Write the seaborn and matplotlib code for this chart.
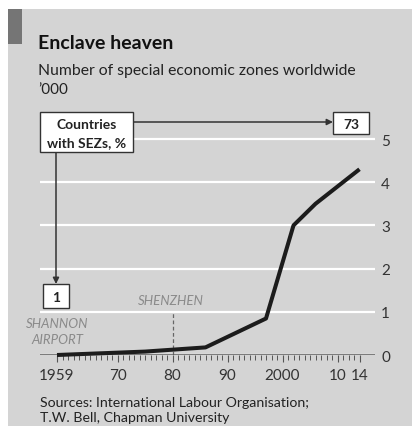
import matplotlib
matplotlib.use("Agg")
import matplotlib.pyplot as plt
import seaborn as sns
import pandas as pd
from matplotlib.patches import Rectangle, FancyArrowPatch
from matplotlib.ticker import FixedLocator, FixedFormatter

# ---- data ----
years = [1959, 1975, 1986, 1997, 2002, 2006, 2014]
zones_thousands = [0.0, 0.079, 0.176, 0.845, 3.0, 3.5, 4.3]
label_years = [1959, 1970, 1980, 1990, 2000, 2010, 2014]
label_texts = ["1959", "70", "80", "90", "2000", "10", "14"]
y_ticks = [0, 1, 2, 3, 4, 5]
countries_start = "1"
countries_end = "73"

df = pd.DataFrame({"year": years, "zones": zones_thousands})

W, H = 412, 427
BG = "#d4d4d4"
sns.set_style("white")
plt.rcParams["font.family"] = ["Lato", "DejaVu Sans"]

fig = plt.figure(figsize=(W / 100, H / 100), dpi=100, facecolor=BG)

def fx(x):
    return x / W

def fy(y):
    return 1 - y / H

# white margins (cropped page) and dark tag
fig.add_artist(Rectangle((0, fy(10)), 1, 10 / H, transform=fig.transFigure, fc="white", ec="none", zorder=0))
fig.add_artist(Rectangle((0, 0), 8 / W, 1, transform=fig.transFigure, fc="white", ec="none", zorder=0))
fig.add_artist(Rectangle((fx(8), fy(45)), 14 / W, 35 / H, transform=fig.transFigure, fc="#757575", ec="none", zorder=1))

# axes
x0, x1 = 40, 375
ytop, ybot = 127, 356
ax = fig.add_axes([fx(x0), fy(ybot), (x1 - x0) / W, (ybot - ytop) / H])
ax.set_facecolor("none")
px_per_year = 5.5
xmin = 1959 - (57 - x0) / px_per_year
ax.set_xlim(xmin, xmin + (x1 - x0) / px_per_year)
ax.set_ylim(0, 5 + (140 - ytop) / 43.2)

for s in ax.spines.values():
    s.set_visible(False)

ax.set_yticks(y_ticks)
ax.yaxis.tick_right()
ax.tick_params(axis="y", length=0, pad=4.5, labelsize=11, labelcolor="#333333")
ax.grid(axis="y", color="white", lw=1.6)
ax.grid(axis="x", visible=False)
ax.axhline(0, color="#555555", lw=1.1, zorder=3)

ax.xaxis.set_major_locator(FixedLocator(label_years))
ax.xaxis.set_major_formatter(FixedFormatter(label_texts))
ax.xaxis.set_minor_locator(FixedLocator(list(range(1959, 2015))))
ax.tick_params(axis="x", which="both", bottom=True, top=False)
ax.tick_params(axis="x", which="major", length=5, width=0.8, color="#555555",
               pad=4, labelsize=11, labelcolor="#333333", direction="out")
ax.tick_params(axis="x", which="minor", length=3.5, width=0.7, color="#555555", direction="out")

sns.lineplot(data=df, x="year", y="zones", ax=ax, color="#1c1c1c", lw=2.9, zorder=4,
             clip_on=False, solid_capstyle="butt")
ax.set_xlabel("")
ax.set_ylabel("")

# Shenzhen marker
ax.vlines(1980, 0, 1.0, colors="#666666", lw=0.9, linestyles=(0, (3, 2)), zorder=2)

# texts
fig.text(fx(38), fy(49), "Enclave heaven", fontsize=14, fontweight="bold", color="#111111")
fig.text(fx(38), fy(75), "Number of special economic zones worldwide", fontsize=11.3, color="#222222")
fig.text(fx(38), fy(94), "\u2019000", fontsize=11, color="#222222")
fig.text(fx(171), fy(305), "SHENZHEN", fontsize=9.5, style="italic", color="#8a8a8a", ha="center")
fig.text(fx(57), fy(328), "SHANNON", fontsize=9.5, style="italic", color="#8a8a8a", ha="center")
fig.text(fx(57), fy(344), "AIRPORT", fontsize=9.5, style="italic", color="#8a8a8a", ha="center")
fig.text(fx(40), fy(407), "Sources: International Labour Organisation;", fontsize=10.2, color="#222222")
fig.text(fx(40), fy(422), "T.W. Bell, Chapman University", fontsize=10.2, color="#222222")

# annotation boxes
def box(xa, ya, xb, yb):
    fig.add_artist(Rectangle((fx(xa), fy(yb)), (xb - xa) / W, (yb - ya) / H,
                             transform=fig.transFigure, fc="white", ec="#333333", lw=1.0, zorder=5))

box(40, 113, 133, 153)
fig.text(fx(86.5), fy(129), "Countries", fontsize=10, fontweight="bold", ha="center", color="#222222", zorder=6)
fig.text(fx(86.5), fy(147), "with SEZs, %", fontsize=10, fontweight="bold", ha="center", color="#222222", zorder=6)
box(333, 113, 369, 135)
fig.text(fx(351), fy(129), countries_end, fontsize=10, fontweight="bold", ha="center", color="#222222", zorder=6)
box(43, 285, 69, 309)
fig.text(fx(56), fy(302), countries_start, fontsize=10, fontweight="bold", ha="center", color="#222222", zorder=6)

for (a, b) in [((133, 123), (333, 123)), ((56, 153), (56, 285))]:
    fig.add_artist(FancyArrowPatch((fx(a[0]), fy(a[1])), (fx(b[0]), fy(b[1])),
                                   transform=fig.transFigure, arrowstyle="-|>", mutation_scale=9,
                                   color="#333333", lw=1.1, shrinkA=0, shrinkB=0, zorder=4))

fig.savefig("out.png", dpi=100, facecolor=BG)
